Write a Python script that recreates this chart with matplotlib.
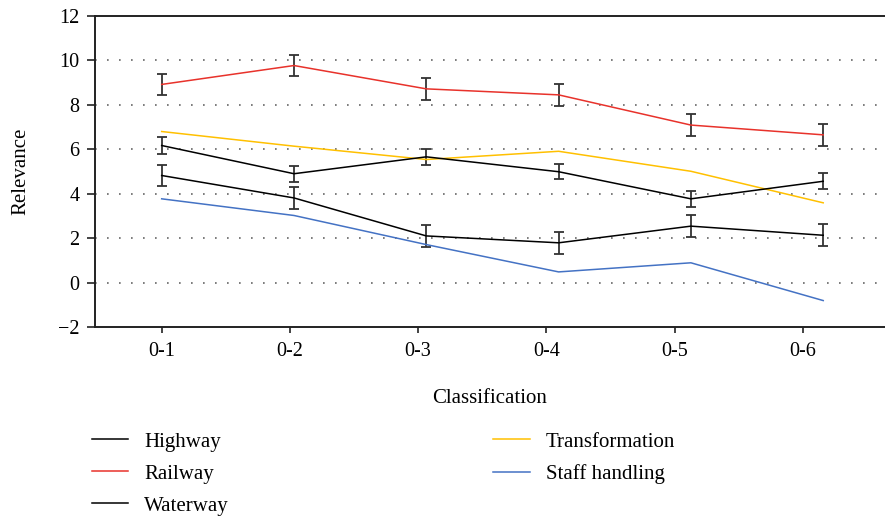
import numpy as np
import matplotlib
matplotlib.use("Agg")
import matplotlib.pyplot as plt

plt.rcParams['font.family'] = ['Liberation Serif', 'DejaVu Serif']

categories = ["0-1", "0-2", "0-3", "0-4", "0-5", "0-6"]

highway = [6.17, 4.90, 5.66, 4.99, 3.77, 4.56]
highway_err = [0.37, 0.36, 0.36, 0.35, 0.36, 0.36]
railway = [8.92, 9.77, 8.72, 8.45, 7.09, 6.65]
railway_err = [0.47, 0.47, 0.49, 0.48, 0.49, 0.49]
waterway = [4.82, 3.81, 2.10, 1.79, 2.54, 2.13]
waterway_err = [0.48, 0.49, 0.50, 0.50, 0.49, 0.49]
transformation = [6.80, 6.14, 5.54, 5.91, 5.01, 3.59]
staff_handling = [3.77, 3.02, 1.71, 0.48, 0.89, -0.81]

fig = plt.figure(figsize=(8.85, 5.22), dpi=100)
ax = fig.add_axes([95 / 885, 195 / 522, 790 / 885, 311 / 522])

x = np.arange(len(categories))

for yv in range(0, 11, 2):
    ax.axhline(yv, color="#666666", lw=1.2, ls=(0, (1, 6.2)), zorder=0)

ekw = dict(ecolor="#333333", elinewidth=1.3, capsize=3.5, capthick=1.3)
l_hw = ax.errorbar(x, highway, yerr=highway_err, color="black", lw=1.1, **ekw)[0]
l_rw = ax.errorbar(x, railway, yerr=railway_err, color="#e8322b", lw=1.1, **ekw)[0]
l_ww = ax.errorbar(x, waterway, yerr=waterway_err, color="black", lw=1.1, **ekw)[0]
l_tr, = ax.plot(x, transformation, color="#ffc000", lw=1.1)
l_sh, = ax.plot(x, staff_handling, color="#4472c4", lw=1.1)

# tick marks sit slightly left of the data points in the original
ax.set_xticks(x * 0.969)
ax.set_xticklabels(categories)
ax.set_xlim(-0.504, 5.467)
ax.set_ylim(-2, 12)
ax.set_yticks(range(-2, 13, 2))
ax.set_yticklabels([f"{v}".replace("-", "\u2212") for v in range(-2, 13, 2)])

for s in ["top", "left", "bottom"]:
    ax.spines[s].set_linewidth(1.4)
    ax.spines[s].set_color("#222222")
ax.spines["right"].set_visible(False)
ax.tick_params(axis="y", length=6, width=1.2, pad=5, labelsize=14.5, color="#222222")
ax.tick_params(axis="x", length=4, width=1.2, pad=7, labelsize=14.5, color="#222222")

ax.set_xlabel("Classification", fontsize=15, labelpad=20)
ax.set_ylabel("Relevance", fontsize=15, labelpad=20)

handles = [l_hw, l_rw, l_ww, l_tr, l_sh]
labels = ["Highway", "Railway", "Waterway", "Transformation", "Staff handling"]
fig.legend(handles, labels, ncol=2, frameon=False, loc="upper left",
           bbox_to_anchor=(92 / 885, 1 - 432 / 522), borderaxespad=0, borderpad=0,
           fontsize=15, handlelength=1.75, handletextpad=0.75, labelspacing=0.6,
           columnspacing=12.7)

fig.savefig("out.png", dpi=100)
